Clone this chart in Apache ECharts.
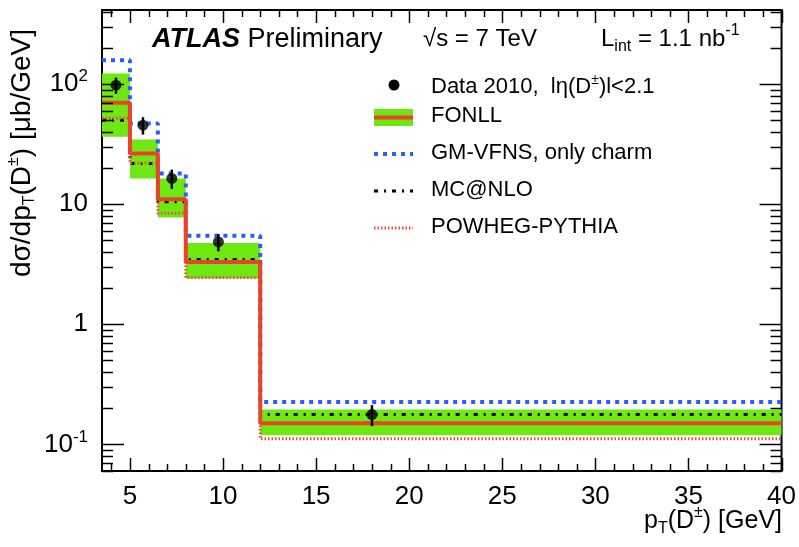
<!DOCTYPE html>
<html>
<head>
<meta charset="utf-8">
<script src="https://cdn.jsdelivr.net/npm/echarts@6/dist/echarts.min.js"></script>
<style>
  html, body { margin: 0; padding: 0; background: #ffffff; }
  #chart { width: 799px; height: 547px; }
</style>
</head>
<body>
<div id="chart"></div>
<script>
// D± differential cross section vs pT, 7 TeV
const binEdges = [3.5, 5, 6.5, 8, 12, 40];

const dataX = [4.25, 5.7, 7.25, 9.75, 18];
const dataY = [98, 45.5, 16.4, 4.85, 0.177];
const dataErr = [15, 7.5, 3.0, 0.8, 0.035];

const fonllCentral = [69.8, 26.4, 11.0, 3.30, 0.150];
const fonllHigh = [122.7, 34.5, 16.4, 4.76, 0.195];
const fonllLow = [36.4, 16.4, 7.74, 2.40, 0.119];

const gmvfns = [158, 47, 18.0, 5.45, 0.225];
const mcatnlo = [50, 21.8, 10.5, 3.46, 0.177];
const powheg = [52, 22.0, 8.4, 2.45, 0.1115];

const xLabelValues = [5, 10, 15, 20, 25, 30, 35, 40];
const xMinorTicks = [4, 6, 7, 8, 9, 11, 12, 13, 14, 16, 17, 18, 19, 21, 22, 23, 24, 26, 27, 28, 29, 31, 32, 33, 34, 36, 37, 38, 39];
const yLabelValues = [0.1, 1, 10, 100];
const yLabelTexts = ['10{sup|-1}', '1', '10', '10{sup|2}'];
const yMinorTicks = [0.06, 0.07, 0.08, 0.09, 0.2, 0.3, 0.4, 0.5, 0.6, 0.7, 0.8, 0.9,
                     2, 3, 4, 5, 6, 7, 8, 9, 20, 30, 40, 50, 60, 70, 80, 90, 200, 300, 400];

const FONT = '"Liberation Sans", Arial, Helvetica, sans-serif';
const GREEN = '#6ee812';
const RED = '#e8442a';
const BLUE = '#2a5cff';

// step outline: one point per left bin edge plus the closing edge
function stepPoints(values) {
  const pts = values.map((v, i) => [binEdges[i], v]);
  pts.push([binEdges[binEdges.length - 1], values[values.length - 1]]);
  return pts;
}

const bandData = fonllHigh.map((h, i) => [binEdges[i], binEdges[i + 1], fonllLow[i], h]);
const errData = dataX.map((x, i) => [x, dataY[i] - dataErr[i], dataY[i] + dataErr[i]]);

function seg(x1, y1, x2, y2, w) {
  return { type: 'line', shape: { x1, y1, x2, y2 }, style: { stroke: '#000', lineWidth: w || 1.5 } };
}

function renderTicks(params, api) {
  const cs = params.coordSys;
  const left = cs.x, right = cs.x + cs.width, top = cs.y, bottom = cs.y + cs.height;
  const kids = [];
  const xt = (v, len) => {
    const px = Math.round(api.coord([v, 1])[0]) + 0.5;
    kids.push(seg(px, bottom, px, bottom - len), seg(px, top, px, top + len));
  };
  const yt = (v, len) => {
    const py = Math.round(api.coord([10, v])[1]) + 0.5;
    kids.push(seg(left, py, left + len, py), seg(right, py, right - len, py));
  };
  xLabelValues.forEach(v => xt(v, 13));
  xMinorTicks.forEach(v => xt(v, 7));
  yLabelValues.forEach(v => yt(v, 22));
  yMinorTicks.forEach(v => yt(v, 11));
  return { type: 'group', children: kids };
}

function renderBand(params, api) {
  const p1 = api.coord([api.value(0), api.value(3)]);
  const p2 = api.coord([api.value(1), api.value(2)]);
  return {
    type: 'rect',
    shape: { x: p1[0], y: p1[1], width: p2[0] - p1[0], height: p2[1] - p1[1] },
    style: { fill: GREEN }
  };
}

function renderErr(params, api) {
  const a = api.coord([api.value(0), api.value(1)]);
  const b = api.coord([api.value(0), api.value(2)]);
  return { type: 'line', shape: { x1: a[0], y1: a[1], x2: b[0], y2: b[1] }, style: { stroke: '#000', lineWidth: 2.5 } };
}

const chart = echarts.init(document.getElementById('chart'), null, { renderer: 'canvas' });

const supStyle = { fontSize: 16, fontFamily: FONT, color: '#000', verticalAlign: 'top', lineHeight: 32 };
const subStyle = { fontSize: 16, fontFamily: FONT, color: '#000', verticalAlign: 'bottom', lineHeight: 28 };

chart.setOption({
  animation: false,
  backgroundColor: '#ffffff',
  grid: { left: 102, right: 17, top: 10, bottom: 76, show: true, borderColor: '#000', borderWidth: 2, backgroundColor: 'transparent' },
  xAxis: {
    type: 'value', min: 3.5, max: 40, interval: 0.5,
    axisLine: { show: false }, axisTick: { show: false }, splitLine: { show: false },
    axisLabel: {
      margin: 13, fontSize: 26, fontFamily: FONT, color: '#000',
      formatter: v => (xLabelValues.some(t => Math.abs(t - v) < 1e-6) ? String(Math.round(v)) : '')
    }
  },
  yAxis: {
    type: 'log', logBase: 10, min: 0.06, max: 414,
    axisLine: { show: false }, axisTick: { show: false }, splitLine: { show: false },
    axisLabel: {
      margin: 14, fontSize: 26, fontFamily: FONT, color: '#000',
      showMinLabel: false, showMaxLabel: false,
      formatter: v => {
        const i = yLabelValues.findIndex(t => Math.abs(Math.log10(t) - Math.log10(v)) < 1e-6);
        return i < 0 ? '' : yLabelTexts[i];
      },
      rich: { sup: { fontSize: 17, fontFamily: FONT, color: '#000', verticalAlign: 'top', lineHeight: 32 } }
    }
  },
  series: [
    { type: 'custom', name: 'FONLL band', renderItem: renderBand, data: bandData, z: 1, silent: true },
    {
      type: 'line', name: 'GM-VFNS, only charm', data: stepPoints(gmvfns), step: 'end', symbol: 'none', z: 2,
      lineStyle: { color: BLUE, width: 4, type: [4, 5], cap: 'butt' }
    },
    {
      type: 'line', name: 'MC@NLO', data: stepPoints(mcatnlo), step: 'end', symbol: 'none', z: 3,
      lineStyle: { color: '#000', width: 3, type: [4, 6, 2, 6], cap: 'butt' }
    },
    {
      type: 'line', name: 'POWHEG-PYTHIA', data: stepPoints(powheg), step: 'end', symbol: 'none', z: 4,
      lineStyle: { color: '#f04848', width: 3, type: [1.5, 2], cap: 'butt' }
    },
    {
      type: 'line', name: 'FONLL', data: stepPoints(fonllCentral), step: 'end', symbol: 'none', z: 5,
      lineStyle: { color: RED, width: 4 }
    },
    { type: 'custom', name: 'Data errors', renderItem: renderErr, data: errData, z: 6, silent: true },
    {
      type: 'scatter', name: 'Data 2010', data: dataX.map((x, i) => [x, dataY[i]]), z: 7,
      symbol: 'circle', symbolSize: 11, itemStyle: { color: '#000' }
    },
    { type: 'custom', name: 'ticks', renderItem: renderTicks, data: [[10, 1]], z: 8, silent: true }
  ],
  graphic: [
    // header
    { type: 'text', left: 152, top: 26, style: {
        text: '{b|ATLAS} Preliminary', font: '27px ' + FONT, fill: '#000',
        rich: { b: { fontSize: 27, fontFamily: FONT, fontWeight: 'bold', fontStyle: 'italic', color: '#000' } } } },
    { type: 'text', left: 423, top: 27, style: { text: '\u221As = 7 TeV', font: '24px ' + FONT, fill: '#000' } },
    { type: 'text', left: 601, top: 23, style: {
        text: 'L{sub|int} = 1.1 nb{sup|-1}', font: '24px ' + FONT, fill: '#000',
        rich: { sub: subStyle, sup: supStyle } } },
    // legend symbols
    { type: 'circle', shape: { cx: 394, cy: 85, r: 5.5 }, style: { fill: '#000' } },
    { type: 'rect', shape: { x: 374, y: 109, width: 39, height: 17 }, style: { fill: GREEN } },
    { type: 'line', shape: { x1: 374, y1: 117.5, x2: 413, y2: 117.5 }, style: { stroke: RED, lineWidth: 4 } },
    { type: 'line', shape: { x1: 374, y1: 154, x2: 413, y2: 154 }, style: { stroke: BLUE, lineWidth: 4, lineDash: [4, 5] } },
    { type: 'line', shape: { x1: 374, y1: 191, x2: 413, y2: 191 }, style: { stroke: '#000', lineWidth: 3, lineDash: [4, 6, 2, 6] } },
    { type: 'line', shape: { x1: 374, y1: 228, x2: 413, y2: 228 }, style: { stroke: '#f04848', lineWidth: 3, lineDash: [1.5, 2] } },
    // legend texts
    { type: 'text', left: 431, top: 73, style: {
        text: 'Data 2010,  l\u03B7(D{sup|\u00B1})l<2.1', font: '22px ' + FONT, fill: '#000',
        rich: { sup: { fontSize: 14, fontFamily: FONT, color: '#000', verticalAlign: 'top', lineHeight: 27 } } } },
    { type: 'text', left: 431, top: 105, style: { text: 'FONLL', font: '22px ' + FONT, fill: '#000' } },
    { type: 'text', left: 431, top: 142, style: { text: 'GM-VFNS, only charm', font: '22px ' + FONT, fill: '#000' } },
    { type: 'text', left: 431, top: 179, style: { text: 'MC@NLO', font: '22px ' + FONT, fill: '#000' } },
    { type: 'text', left: 431, top: 216, style: { text: 'POWHEG-PYTHIA', font: '22px ' + FONT, fill: '#000' } },
    // axis titles
    { type: 'text', x: 22, y: 153, rotation: Math.PI / 2, style: {
        text: 'd\u03C3/dp{sub|T}(D{sup|\u00B1}) [\u03BCb/GeV]', font: '28px ' + FONT, fill: '#000',
        align: 'center', verticalAlign: 'middle',
        rich: { sub: subStyle, sup: supStyle } } },
    { type: 'text', right: 17, top: 505, style: {
        text: 'p{sub|T}(D{sup|\u00B1}) [GeV]', font: '25px ' + FONT, fill: '#000',
        rich: { sub: subStyle, sup: supStyle } } }
  ]
});
</script>
</body>
</html>
